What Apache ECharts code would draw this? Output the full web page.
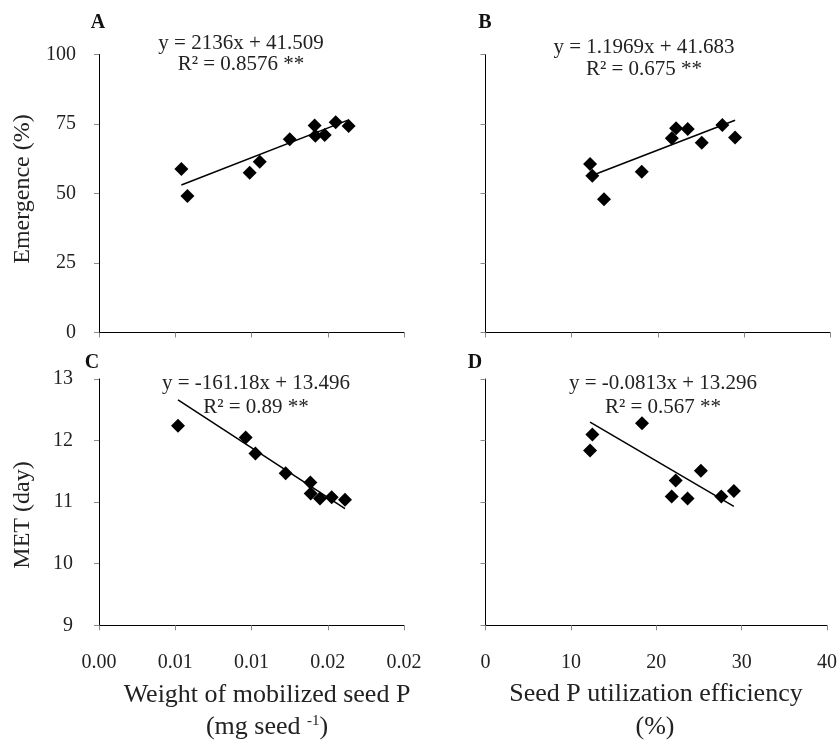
<!DOCTYPE html>
<html><head><meta charset="utf-8">
<script src="https://cdn.jsdelivr.net/npm/echarts@6/dist/echarts.min.js"></script>
<style>html,body{margin:0;padding:0;background:#fff}#c{width:840px;height:740px}</style>
</head><body><div id="c"></div>
<script>
// ---- data ----
const seedPWeight_A = [0.0054, 0.0058, 0.00988, 0.01054, 0.01251, 0.01414, 0.01419, 0.0148, 0.01552, 0.01637];
const emergence_A   = [58.8, 49.1, 57.5, 61.4, 69.5, 74.5, 70.8, 71.0, 75.6, 74.3];
const seedPUtil_B   = [12.14, 12.40, 13.76, 18.14, 21.63, 22.13, 23.48, 25.11, 27.50, 28.98];
const emergence_B   = [60.6, 56.4, 47.9, 57.8, 69.9, 73.5, 73.2, 68.3, 74.6, 70.1];
const seedPWeight_C = [0.00518, 0.00962, 0.01026, 0.01224, 0.01386, 0.01388, 0.01449, 0.01526, 0.01613];
const met_C         = [12.24, 12.05, 11.79, 11.47, 11.32, 11.14, 11.06, 11.08, 11.04];
const seedPUtil_D   = [12.52, 12.25, 18.33, 22.28, 21.81, 23.67, 25.23, 27.62, 29.09];
const met_D         = [12.10, 11.84, 12.28, 11.35, 11.09, 11.06, 11.51, 11.09, 11.18];

const slopes     = [2136, 1.1969, -161.18, -0.0813];
const intercepts = [41.509, 41.683, 13.496, 13.296];
const equations  = ['y = 2136x + 41.509', 'y = 1.1969x + 41.683', 'y = -161.18x + 13.496', 'y = -0.0813x + 13.296'];
const rSquared   = ['R\u00B2 = 0.8576 **', 'R\u00B2 = 0.675 **', 'R\u00B2 = 0.89 **', 'R\u00B2 = 0.567 **'];
const panelLetters = ['A', 'B', 'C', 'D'];
const weightTickLabels = ['0.00', '0.01', '0.01', '0.02', '0.02'];
const utilTickLabels   = ['0', '10', '20', '30', '40'];
const emergenceTickLabels = ['0', '25', '50', '75', '100'];
const metTickLabels    = ['9', '10', '11', '12', '13'];
const yTitles = ['Emergence (%)', 'MET (day)'];
const xTitleWeight = ['Weight of mobilized seed P', '(mg seed ', '-1', ')'];
const xTitleUtil = ['Seed P utilization efficiency', '(%)'];

// ---- build chart ----
const FONT = '"Liberation Serif", "Times New Roman", serif';
const chart = echarts.init(document.getElementById('c'), null, {renderer: 'canvas'});

const xs = [seedPWeight_A, seedPUtil_B, seedPWeight_C, seedPUtil_D];
const ys = [emergence_A, emergence_B, met_C, met_D];

const grids = [
  {left: 99, top: 54.5, width: 305, height: 278},
  {left: 485.5, top: 54.5, width: 344.5, height: 278},
  {left: 99, top: 379, width: 305, height: 246.3},
  {left: 485.5, top: 379, width: 344.5, height: 246.3}
];

const tickStyle = {show: true, inside: false, length: 5, lineStyle: {color: '#8a8a8a', width: 1}};
const lineStyle = {show: true, onZero: false, lineStyle: {color: '#000', width: 1}};
const labelStyle = {fontFamily: FONT, fontSize: 20, color: '#222'};

function xAxis(i) {
  const isWeight = (i % 2 === 0);
  const step = isWeight ? 0.005 : 10;
  const labels = isWeight ? weightTickLabels : utilTickLabels;
  return {
    type: 'value', gridIndex: i, min: 0, max: isWeight ? 0.02 : 40, interval: step,
    axisLine: lineStyle, axisTick: tickStyle, splitLine: {show: false},
    axisLabel: Object.assign({show: i >= 2, margin: 27,
      formatter: v => labels[Math.round(v / step)]}, labelStyle)
  };
}
function yAxis(i) {
  const isEm = i < 2;
  const step = isEm ? 25 : 1;
  const min = isEm ? 0 : 9;
  const labels = isEm ? emergenceTickLabels : metTickLabels;
  return {
    type: 'value', gridIndex: i, min: min, max: isEm ? 100 : 13, interval: step,
    axisLine: lineStyle, axisTick: tickStyle, splitLine: {show: false},
    axisLabel: Object.assign({show: i % 2 === 0, margin: isEm ? 23 : 26,
      formatter: v => labels[Math.round((v - min) / step)]}, labelStyle)
  };
}

const series = [];
for (let i = 0; i < 4; i++) {
  series.push({
    type: 'scatter', xAxisIndex: i, yAxisIndex: i, symbol: 'diamond', symbolSize: 14,
    itemStyle: {color: '#000', opacity: 1}, silent: true,
    data: xs[i].map((x, k) => [x, ys[i][k]])
  });
  const x0 = Math.min(...xs[i]), x1 = Math.max(...xs[i]);
  series.push({
    type: 'line', xAxisIndex: i, yAxisIndex: i, symbol: 'none', silent: true, z: 3,
    lineStyle: {color: '#000', width: 1.5},
    data: [[x0, slopes[i] * x0 + intercepts[i]], [x1, slopes[i] * x1 + intercepts[i]]]
  });
}

function txt(text, x, y, size, opts) {
  return Object.assign({
    type: 'text', x: x, y: y, silent: true,
    style: Object.assign({text: text, fontFamily: FONT, fontSize: size, fill: '#222',
      align: 'center', verticalAlign: 'middle'}, (opts && opts.style) || {})
  }, (opts && opts.el) || {});
}

const letterPos = [[98, 23], [485, 23], [92, 363], [475, 363]];
const eqPos = [[241, 43, 64], [644, 47, 69], [256, 383, 407], [663, 383, 407]];
const graphic = [];
for (let i = 0; i < 4; i++) {
  graphic.push(txt(panelLetters[i], letterPos[i][0], letterPos[i][1], 20, {style: {fontWeight: 'bold', fill: '#111'}}));
  graphic.push(txt(equations[i], eqPos[i][0], eqPos[i][1], 21));
  graphic.push(txt(rSquared[i], eqPos[i][0], eqPos[i][2], 21));
}
graphic.push(txt(yTitles[0], 23, 189, 24, {el: {rotation: Math.PI / 2}}));
graphic.push(txt(yTitles[1], 23, 515, 24, {el: {rotation: Math.PI / 2}}));
graphic.push(txt(xTitleWeight[0], 267, 695, 26));
graphic.push({
  type: 'text', x: 267, y: 727, silent: true,
  style: {
    text: xTitleWeight[1] + '{sup|' + xTitleWeight[2] + '}' + xTitleWeight[3],
    fontFamily: FONT, fontSize: 26, fill: '#222', align: 'center', verticalAlign: 'middle',
    rich: {sup: {fontFamily: FONT, fontSize: 15, fill: '#222', padding: [0, 0, 12, 0]}}
  }
});
graphic.push(txt(xTitleUtil[0], 656, 694, 26));
graphic.push(txt(xTitleUtil[1], 655, 727, 26));

chart.setOption({
  animation: false,
  backgroundColor: '#fff',
  grid: grids.map(g => Object.assign({containLabel: false}, g)),
  xAxis: [0, 1, 2, 3].map(xAxis),
  yAxis: [0, 1, 2, 3].map(yAxis),
  series: series,
  graphic: graphic
});
</script>
</body></html>
